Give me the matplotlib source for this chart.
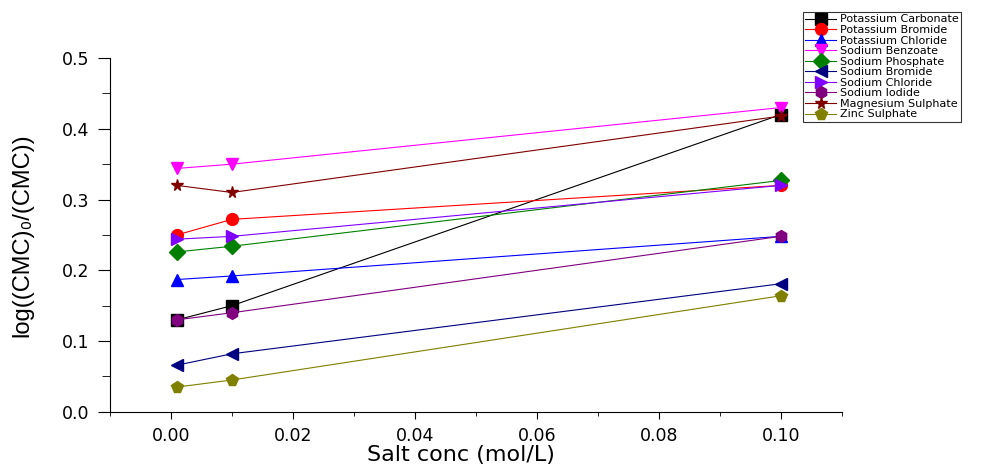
import matplotlib.pyplot as plt
from matplotlib.ticker import MultipleLocator

plt.rcParams['font.family'] = ['DejaVu Sans']

# salt concentration (mol/L)
conc = [0.001, 0.01, 0.1]

names = ["Potassium Carbonate", "Potassium Bromide", "Potassium Chloride",
         "Sodium Benzoate", "Sodium Phosphate", "Sodium Bromide",
         "Sodium Chloride", "Sodium Iodide", "Magnesium Sulphate", "Zinc Sulphate"]

potassium_carbonate = [0.130, 0.150, 0.420]
potassium_bromide = [0.250, 0.272, 0.320]
potassium_chloride = [0.187, 0.192, 0.248]
sodium_benzoate = [0.344, 0.350, 0.430]
sodium_phosphate = [0.226, 0.234, 0.327]
sodium_bromide = [0.066, 0.082, 0.181]
sodium_chloride = [0.244, 0.248, 0.320]
sodium_iodide = [0.130, 0.140, 0.248]
magnesium_sulphate = [0.320, 0.310, 0.418]
zinc_sulphate = [0.035, 0.045, 0.164]

series = [potassium_carbonate, potassium_bromide, potassium_chloride,
          sodium_benzoate, sodium_phosphate, sodium_bromide,
          sodium_chloride, sodium_iodide, magnesium_sulphate, zinc_sulphate]

colors = ["#000000", "#ff0000", "#0000ff", "#ff00ff", "#008000",
          "#000080", "#8000ff", "#800080", "#800000", "#808000"]
markers = ["s", "o", "^", "v", "D", "<", ">", "h", "*", "p"]

fig = plt.figure(figsize=(9.81, 4.68), dpi=100)
ax = fig.add_axes([0.112, 0.12, 0.746, 0.756])

for name, vals, c, m in zip(names, series, colors, markers):
    ax.plot(conc, vals, color=c, marker=m, markersize=8.5, linewidth=0.8, label=name)

ax.set_xlim(-0.01, 0.11)
ax.set_ylim(0.0, 0.5)
ax.xaxis.set_major_locator(MultipleLocator(0.02))
ax.xaxis.set_minor_locator(MultipleLocator(0.01))
ax.yaxis.set_major_locator(MultipleLocator(0.1))
ax.yaxis.set_minor_locator(MultipleLocator(0.05))
ax.xaxis.set_major_formatter(plt.FormatStrFormatter('%.2f'))
ax.yaxis.set_major_formatter(plt.FormatStrFormatter('%.1f'))
ax.tick_params(which='both', direction='out', labelsize=12.5)
ax.tick_params(axis='y', which='major', length=9, pad=6)
ax.tick_params(axis='y', which='minor', length=6)
ax.tick_params(axis='x', which='major', length=5, pad=6)
ax.tick_params(axis='x', which='minor', length=3)
ax.spines['top'].set_visible(False)
ax.spines['right'].set_visible(False)

ax.set_xlabel("Salt conc (mol/L)", fontsize=16)
ax.xaxis.set_label_coords(0.48, -0.095)
ax.set_ylabel("log((CMC)\u2080/(CMC))", fontsize=17,
              family=['Liberation Sans', 'DejaVu Sans'])
ax.yaxis.set_label_coords(-0.105, 0.5)

leg = fig.legend(loc='upper left', bbox_to_anchor=(0.8186, 0.974), fontsize=8,
                 frameon=True, fancybox=False, edgecolor='black', borderaxespad=0,
                 borderpad=0.2, labelspacing=0.05, handlelength=2.8,
                 handletextpad=0.3, markerscale=1.0)
leg.get_frame().set_linewidth(0.8)

fig.savefig("out.png", dpi=100)
